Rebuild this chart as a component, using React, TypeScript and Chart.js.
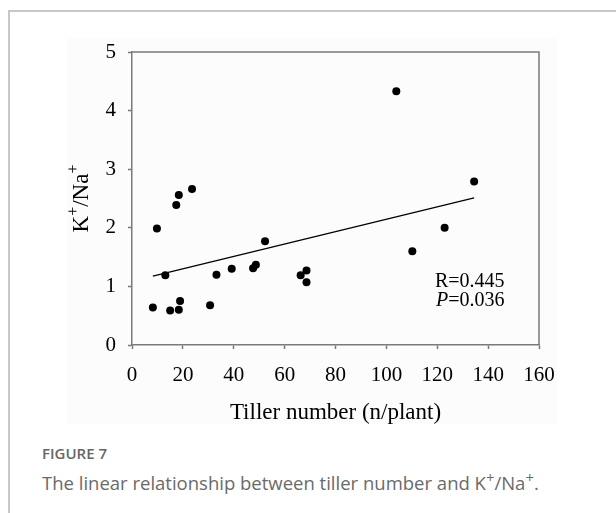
import React, { useEffect, useRef } from "react";
import { Chart, registerables } from "chart.js";

Chart.register(...registerables);

// ---- data ----
const tillerNumber = [8.2, 9.8, 13.1, 15.0, 17.4, 18.4, 18.4, 18.9, 23.6, 30.7, 33.2, 39.2, 47.6, 48.7, 52.3, 66.3, 68.6, 68.6, 103.9, 110.2, 122.9, 134.5];
const kNaRatio = [0.64, 1.99, 1.19, 0.59, 2.39, 2.56, 0.60, 0.75, 2.66, 0.68, 1.20, 1.30, 1.31, 1.37, 1.77, 1.19, 1.27, 1.07, 4.33, 1.60, 2.00, 2.79];
const fitX = [8.2, 134.5];
const fitY = [1.175, 2.51];
const xTickValues = [0, 20, 40, 60, 80, 100, 120, 140, 160];
const yTickValues = [0, 1, 2, 3, 4, 5];
const xTitle = "Tiller number (n/plant)";
const rText = "R=0.445";
const pValue = "=0.036";
const figureLabel = "FIGURE 7";

const AXIS = "#7a7a7a";
const SERIF = '"Liberation Serif", "Times New Roman", serif';

const decorPlugin = {
  id: "decor",
  afterDraw(chart: any) {
    const { ctx, chartArea } = chart;
    const { left, right, top, bottom } = chartArea;
    ctx.save();
    // top and right frame of the plot box
    ctx.strokeStyle = AXIS;
    ctx.lineWidth = 1.5;
    ctx.beginPath();
    ctx.moveTo(left, top);
    ctx.lineTo(right, top);
    ctx.lineTo(right, bottom);
    ctx.stroke();

    ctx.fillStyle = "#000";
    ctx.textBaseline = "alphabetic";

    // x title
    ctx.font = `23px ${SERIF}`;
    ctx.textAlign = "center";
    ctx.fillText(xTitle, (left + right) / 2, 419);

    // y title K+/Na+ with superscripts
    const parts = [
      { t: "K", sup: false },
      { t: "+", sup: true },
      { t: "/Na", sup: false },
      { t: "+", sup: true },
    ];
    const mainFont = `23px ${SERIF}`;
    const supFont = `16px ${SERIF}`;
    let total = 0;
    for (const p of parts) {
      ctx.font = p.sup ? supFont : mainFont;
      total += ctx.measureText(p.t).width;
    }
    ctx.save();
    ctx.translate(88, (top + bottom) / 2);
    ctx.rotate(-Math.PI / 2);
    ctx.textAlign = "left";
    let x = -total / 2;
    for (const p of parts) {
      ctx.font = p.sup ? supFont : mainFont;
      ctx.fillText(p.t, x, p.sup ? -10 : 0);
      x += ctx.measureText(p.t).width;
    }
    ctx.restore();

    // statistics annotation
    ctx.textAlign = "left";
    ctx.font = `20px ${SERIF}`;
    ctx.fillText(rText, 435, 287);
    ctx.font = `italic 20px ${SERIF}`;
    ctx.fillText("P", 436, 306);
    const pw = ctx.measureText("P").width;
    ctx.font = `20px ${SERIF}`;
    ctx.fillText(pValue, 436 + pw, 306);
    ctx.restore();
  },
};

export default function App() {
  const canvasRef = useRef<HTMLCanvasElement | null>(null);

  useEffect(() => {
    if (!canvasRef.current) return;
    const points = tillerNumber.map((x, i) => ({ x, y: kNaRatio[i] }));
    const fit = fitX.map((x, i) => ({ x, y: fitY[i] }));
    const chart = new Chart(canvasRef.current, {
      type: "scatter",
      data: {
        datasets: [
          {
            type: "line" as any,
            data: fit,
            borderColor: "#000",
            borderWidth: 1.2,
            pointRadius: 0,
            fill: false,
            showLine: true,
          } as any,
          {
            data: points,
            backgroundColor: "#000",
            borderColor: "#000",
            pointRadius: 4,
            pointHoverRadius: 4,
            borderWidth: 0,
          },
        ],
      },
      options: {
        animation: false,
        responsive: false,
        devicePixelRatio: 1,
        events: [],
        layout: { padding: { left: 0, top: 52, right: 77, bottom: 0 } },
        plugins: { legend: { display: false }, tooltip: { enabled: false } },
        scales: {
          x: {
            type: "linear",
            min: 0,
            max: 160,
            afterBuildTicks: (s: any) => {
              s.ticks = xTickValues.map((v) => ({ value: v }));
            },
            afterFit: (s: any) => {
              s.height = 95;
            },
            grid: { display: true, drawOnChartArea: false, drawTicks: true, tickLength: 4, tickColor: AXIS, tickWidth: 1.5 },
            border: { display: true, color: AXIS, width: 1.5 },
            ticks: { color: "#000", font: { family: SERIF, size: 21 }, padding: 14, maxRotation: 0, autoSkip: false },
          },
          y: {
            type: "linear",
            min: 0,
            max: 5,
            afterBuildTicks: (s: any) => {
              s.ticks = yTickValues.map((v) => ({ value: v }));
            },
            afterFit: (s: any) => {
              s.width = 132;
            },
            grid: { display: true, drawOnChartArea: false, drawTicks: true, tickLength: 4, tickColor: AXIS, tickWidth: 1.5 },
            border: { display: true, color: AXIS, width: 1.5 },
            ticks: { color: "#000", font: { family: SERIF, size: 21 }, padding: 12, autoSkip: false },
          },
        },
      },
      plugins: [decorPlugin],
    });
    return () => chart.destroy();
  }, []);

  return (
    <div style={{ position: "fixed", inset: 0, overflow: "hidden", background: "#fff" }}>
      <div
        style={{
          position: "absolute",
          left: 8,
          top: 10,
          right: -10,
          bottom: -10,
          borderLeft: "2px solid #c8c8c8",
          borderTop: "2px solid #c8c8c8",
        }}
      />
      <div style={{ position: "absolute", left: 67, top: 38, width: 490, height: 386, background: "#fcfcfc" }} />
      <canvas ref={canvasRef} width={616} height={440} style={{ position: "absolute", left: 0, top: 0, width: 616, height: 440 }} />
      <div
        style={{
          position: "absolute",
          left: 42,
          top: 443,
          fontFamily: '"Open Sans", "Noto Sans", sans-serif',
          fontWeight: 600,
          fontSize: 15,
          color: "#666",
          lineHeight: "20px",
          whiteSpace: "nowrap",
        }}
      >
        {figureLabel}
      </div>
      <div
        style={{
          position: "absolute",
          left: 42,
          top: 471,
          fontFamily: '"Open Sans", "Noto Sans", sans-serif',
          fontSize: 18.5,
          color: "#6a6a6a",
          lineHeight: "24px",
          whiteSpace: "nowrap",
        }}
      >
        The linear relationship between tiller number and K<sup style={{ fontSize: "0.8em", lineHeight: 0 }}>+</sup>/Na
        <sup style={{ fontSize: "0.8em", lineHeight: 0 }}>+</sup>.
      </div>
    </div>
  );
}
